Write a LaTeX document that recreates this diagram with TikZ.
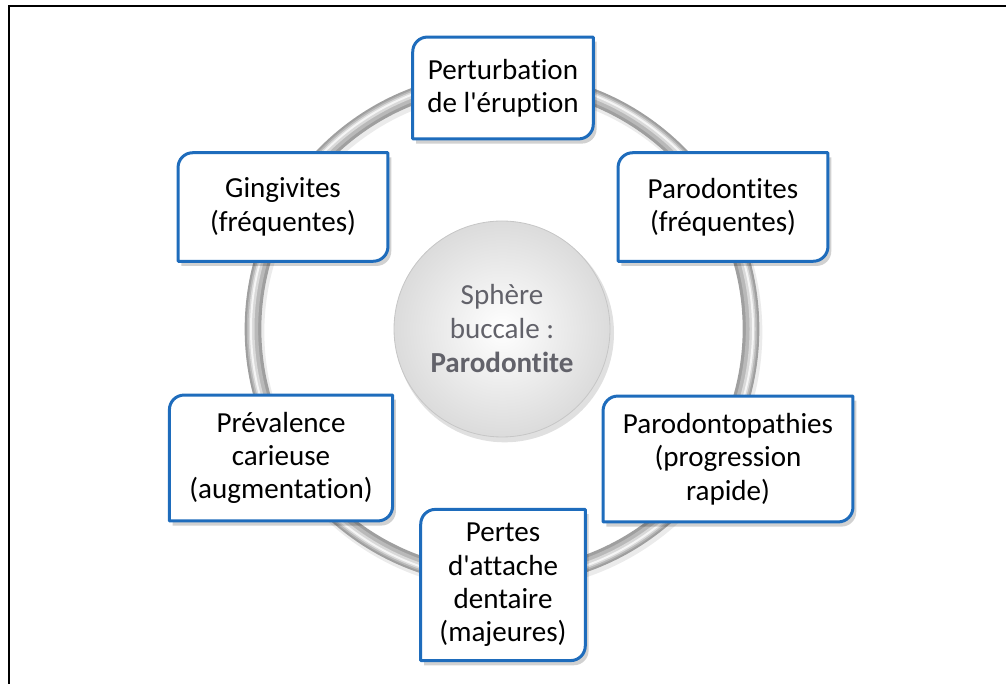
\documentclass[tikz,border=0pt]{standalone}
\usepackage{fontspec}
\setmainfont{Carlito}[Ligatures={NoCommon,TeXOff}]
\definecolor{boxblue}{RGB}{30,108,188}
\definecolor{spheretext}{RGB}{98,98,106}
\pgfdeclarelayer{ringlayer}
\pgfdeclarelayer{boxlayer}
\pgfsetlayers{ringlayer,boxlayer,main}
\tikzset{
  card/.style={align=center, inner sep=0pt, font=\fontsize{21.8}{25}\selectfont},
  cardline/.style={draw=boxblue, line width=2.25pt, fill=white, line join=round},
}
\begin{document}
\begin{tikzpicture}[x=0.75pt, y=0.75pt]
        \useasboundingbox (0,0) rectangle (1006,684);
        \draw[line width=1.7pt] (9,0) -- (9,678) -- (1006,678);

        \node[card, minimum width=135pt, minimum height=76pt] (a) at (503,596) {Perturbation\\de l'éruption};
        \node[card, minimum width=157pt, minimum height=81pt] (b) at (283,477) {Gingivites\\(fréquentes)};
        \node[card, minimum width=157pt, minimum height=81pt] (c) at (723,477) {Parodontites\\(fréquentes)};
        \node[card, minimum width=167pt, minimum height=94pt] (d) at (281,226) {Prévalence\\carieuse\\(augmentation)};
        \node[card, minimum width=187pt, minimum height=94pt] (e) at (728,225) {Parodontopathies\\(progression\\rapide)};
        \node[card, minimum width=123pt, minimum height=113pt] (f) at (503,99) {Pertes\\d'attache\\dentaire\\(majeures)};

        \node[circle, minimum size=162pt, align=center, text=spheretext,
              font=\fontsize{21.8}{25.5}\selectfont] (s) at (502,355)
              {Sphère\\buccale :\\\textbf{Parodontite}};

        % ring and sphere
        \begin{pgfonlayer}{ringlayer}
        \draw[black, opacity=0.08, line width=14pt] ([shift={(1.5pt,-2.5pt)}]s.center) circle[radius=249];
        \draw[gray!75, line width=12.5pt] (s.center) circle[radius=249];
        \draw[gray!55, line width=8.5pt] (s.center) circle[radius=249.5];
        \draw[gray!30, line width=4.5pt] (s.center) circle[radius=250.5];
        \draw[gray!8, line width=1.5pt] (s.center) circle[radius=251];
        \fill[black, opacity=0.12] ([shift={(2pt,-3pt)}]s.center) circle[radius=82pt];
        \shade[inner color=white, outer color=gray!28] (s.center) circle[radius=81pt];
        \draw[gray!45, line width=0.6pt] (s.center) circle[radius=81pt];
        \end{pgfonlayer}

        % cards with two rounded corners
        \begin{pgfonlayer}{boxlayer}
        \foreach \n in {a,b,c,d,e,f} {
          \fill[black, opacity=0.18, transform canvas={shift={(2.5pt,-3.5pt)}}]
            (\n.south west) -- ([yshift=-11pt]\n.north west) arc[start angle=180, end angle=90, radius=11pt]
            -- (\n.north east) -- ([yshift=11pt]\n.south east) arc[start angle=0, end angle=-90, radius=11pt] -- cycle;
          \draw[cardline]
            (\n.south west) -- ([yshift=-11pt]\n.north west) arc[start angle=180, end angle=90, radius=11pt]
            -- (\n.north east) -- ([yshift=11pt]\n.south east) arc[start angle=0, end angle=-90, radius=11pt] -- cycle;
        }
        \end{pgfonlayer}
\end{tikzpicture}
\end{document}
